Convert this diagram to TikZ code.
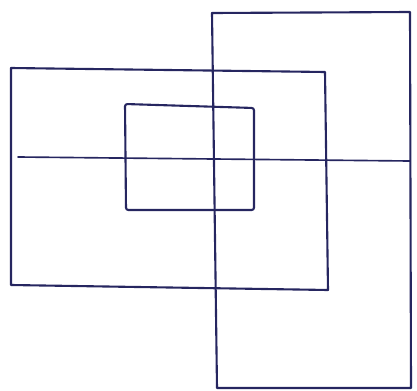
\documentclass[tikz,border=0pt]{standalone}
\usepackage{xcolor}
\definecolor{penblue}{RGB}{38,38,96}
\usepackage{tikz}
\tikzset{
  sketch/.style={draw=penblue, line width=1.8pt, line join=round, line cap=round},
  thinline/.style={draw=penblue, line width=1.4pt, line cap=round},
}

\begin{document}
\begin{tikzpicture}[x=0.03cm, y=-0.03cm]
  \useasboundingbox (0,0) rectangle (417,391);

  % wide frame
  \draw [sketch] (11,68) -- (325,72) -- (328,290) -- (11,285) -- cycle;
  % tall frame
  \draw [sketch] (212,13) -- (410,12) -- (411,388) -- (217,388) -- cycle;
  % inner box
  \draw [sketch, rounded corners=2pt] (125,104) -- (254,108) -- (254,210) -- (126,210) -- cycle;
  % cross line
  \draw [thinline] (18,157) -- (410,161);
\end{tikzpicture}
\end{document}
